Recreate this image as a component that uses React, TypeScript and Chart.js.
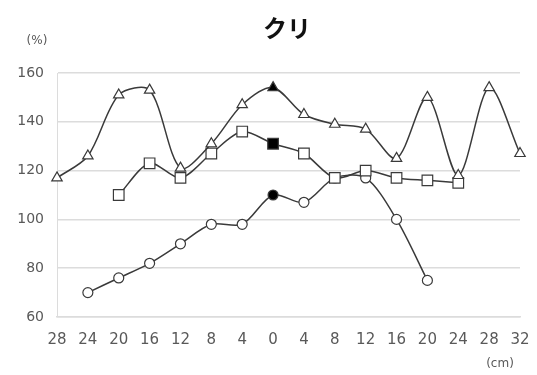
import React, { useEffect, useRef } from "react";
import { Chart, registerables } from "chart.js";

Chart.register(...registerables);

// Distance labels (cm) along the horizontal axis
const distanceLabels = ["28", "24", "20", "16", "12", "8", "4", "0", "4", "8", "12", "16", "20", "24", "28", "32"];

// Relative values (%) for each series
const triangleSeries = [117, 126, 151, 153, 121, 131, 147, 154, 143, 139, 137, 125, 150, 118, 154, 127];
const squareSeries = [null, null, 110, 123, 117, 127, 136, 131, 127, 117, 120, 117, 116, 115, null, null];
const circleSeries = [null, 70, 76, 82, 90, 98, 98, 110, 107, 117, 117, 100, 75, null, null, null];

const yTicks = [60, 80, 100, 120, 140, 160];

const titleText = "クリ";
const yUnit = "(%)";
const xUnit = "(cm)";

const centerIndex = 7;
const lineColor = "#3a3a3a";
const textColor = "#595959";
const gridColor = "#dcdcdc";

function markerFills(values: (number | null)[]) {
  return values.map((_, i) => (i === centerIndex ? "#000000" : "#ffffff"));
}

const textPlugin = {
  id: "chartTexts",
  afterDraw(chart: Chart) {
    const ctx = chart.ctx;
    ctx.save();
    ctx.fillStyle = "#111111";
    ctx.font = "bold 24px 'Noto Sans CJK JP'";
    ctx.textAlign = "center";
    ctx.textBaseline = "middle";
    ctx.fillText(titleText, 287, 28);

    ctx.fillStyle = textColor;
    ctx.font = "12px 'DejaVu Sans'";
    ctx.fillText(yUnit, 37, 41);
    ctx.fillText(xUnit, 500, 364);
    ctx.restore();
  },
};

export default function App() {
  const canvasRef = useRef<HTMLCanvasElement | null>(null);

  useEffect(() => {
    if (!canvasRef.current) return;
    const lineProps = {
      borderColor: lineColor,
      borderWidth: 1.5,
      pointBorderColor: lineColor,
      pointBorderWidth: 1.2,
      tension: 0.3,
      spanGaps: false,
    };
    const chart = new Chart(canvasRef.current, {
      type: "line",
      data: {
        labels: distanceLabels,
        datasets: [
          {
            ...lineProps,
            label: "triangle",
            data: triangleSeries,
            pointStyle: "triangle",
            pointRadius: 6,
            pointBackgroundColor: markerFills(triangleSeries),
          },
          {
            ...lineProps,
            label: "square",
            data: squareSeries,
            pointStyle: "rect",
            pointRadius: 7.5,
            pointBackgroundColor: markerFills(squareSeries),
          },
          {
            ...lineProps,
            label: "circle",
            data: circleSeries,
            pointStyle: "circle",
            pointRadius: 5,
            pointBackgroundColor: markerFills(circleSeries),
          },
        ],
      },
      options: {
        responsive: false,
        animation: false,
        layout: { padding: { top: 73, right: 17, bottom: 0, left: 0 } },
        plugins: {
          legend: { display: false },
          tooltip: { enabled: false },
        },
        scales: {
          x: {
            type: "category",
            offset: false,
            grid: { display: false, drawTicks: false },
            border: { display: true, color: gridColor, width: 1.5 },
            ticks: {
              autoSkip: false,
              maxRotation: 0,
              padding: 14,
              color: textColor,
              font: { family: "'DejaVu Sans'", size: 15 },
            },
            afterFit(scale: any) {
              scale.height = 58;
              scale.paddingLeft = 0;
              scale.paddingRight = 0;
            },
          },
          y: {
            min: yTicks[0],
            max: yTicks[yTicks.length - 1],
            grid: { color: gridColor, lineWidth: 1.5, drawTicks: false },
            border: { display: true, color: gridColor, width: 1 },
            afterBuildTicks(scale: any) {
              scale.ticks = yTicks.map((v) => ({ value: v }));
            },
            ticks: {
              padding: 13,
              color: textColor,
              font: { family: "'DejaVu Sans'", size: 14 },
            },
            afterFit(scale: any) {
              scale.width = 57;
              scale.paddingTop = 0;
              scale.paddingBottom = 0;
            },
          },
        },
      },
      plugins: [textPlugin],
    });
    return () => chart.destroy();
  }, []);

  return (
    <div style={{ position: "fixed", left: 0, top: 0, width: 537, height: 375, background: "#ffffff" }}>
      <canvas ref={canvasRef} width={537} height={375} />
    </div>
  );
}
